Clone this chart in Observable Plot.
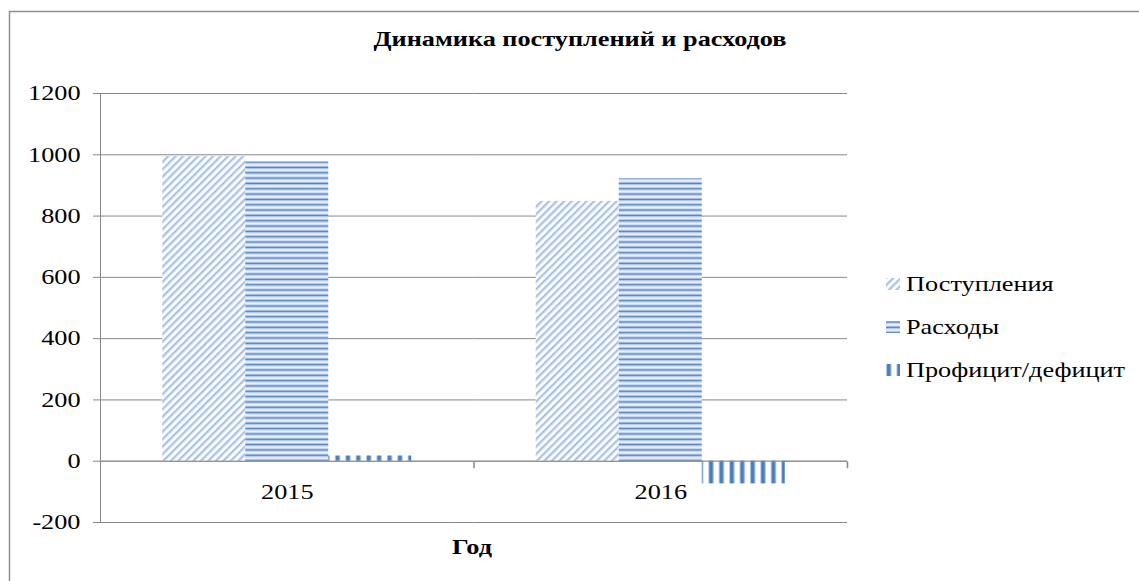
<!DOCTYPE html>
<html><head><meta charset="utf-8">
<script src="https://cdn.jsdelivr.net/npm/d3@7"></script>
<script src="https://cdn.jsdelivr.net/npm/@observablehq/plot@0.6"></script>
<style>
html,body{margin:0;padding:0;background:#fff;}
#wrap{position:relative;width:1139px;height:581px;overflow:hidden;background:#fff;}
#wrap > svg{position:absolute;left:0;top:0;}
</style></head><body><div id="wrap"></div>
<script>
const years = ["2015", "2016"];
const series = ["Поступления", "Расходы", "Профицит/дефицит"];
const revenue = [994, 848];
const expenses = [977, 922];
const balance = [17, -74];
const yTicks = [-200, 0, 200, 400, 600, 800, 1000, 1200];
const title = "Динамика поступлений и расходов";
const xTitle = "Год";

const rows = years.flatMap((year, i) => [
  {year, series: series[0], value: revenue[i]},
  {year, series: series[1], value: expenses[i]},
  {year, series: series[2], value: balance[i]}
]);
const patterns = ["url(#pDiag)", "url(#pHoriz)", "url(#pVert)"];
const gray = "#888888";
const font = "'Liberation Serif', 'Times New Roman', serif";
const fs = 21;
const stretch = 1.25;
const tickSymbol = {draw(ctx) { ctx.moveTo(0, 0); ctx.lineTo(0, 7); }};

const wrap = document.getElementById("wrap");

const chart = Plot.plot({
  width: 1139, height: 581,
  marginLeft: 100, marginRight: 292, marginTop: 93, marginBottom: 59,
  style: {fontFamily: font, fontSize: fs + "px", color: "black", background: "transparent"},
  fx: {domain: years, padding: 0, axis: null, round: false, label: null},
  x: {domain: series, paddingInner: 0, paddingOuter: 0.75, axis: null, round: false, label: null},
  y: {domain: [-200, 1200], ticks: yTicks, label: null},
  color: {type: "ordinal", domain: series, range: patterns},
  marks: [
    Plot.gridY(yTicks, {stroke: gray, strokeOpacity: 1}),
    Plot.barY(rows, {fx: "year", x: "series", y: "value", fill: "series"}),
    Plot.ruleY([0], {stroke: gray}),
    Plot.frame({anchor: "left", facetAnchor: "left", stroke: gray}),
    Plot.dot([0], {y: d => d, frameAnchor: "right", symbol: tickSymbol, stroke: gray, fill: "none"}),
    Plot.axisY(yTicks, {tickSize: 7, tickPadding: 13, stroke: gray, fill: "black", fontSize: fs,
      fontFamily: font, label: null, tickFormat: d => String(d)}),
    Plot.text(years, {fx: d => d, y: () => 0, text: d => d, dy: 31, fill: "black", fontSize: fs, fontFamily: font})
  ]
});
wrap.appendChild(chart);

const ov = d3.select(wrap).append("svg").attr("width", 1139).attr("height", 581)
  .style("font-family", font).style("font-size", fs + "px");
ov.append("defs").html(`
  <pattern id="pDiag" patternUnits="userSpaceOnUse" width="5.3" height="10" patternTransform="rotate(45)">
    <rect width="5.3" height="10" fill="#ffffff"/>
    <rect x="0" width="0.8" height="10" fill="#d3e0f2"/>
    <rect x="0.8" width="1.5" height="10" fill="#97b6e0"/>
    <rect x="2.3" width="0.8" height="10" fill="#d3e0f2"/>
  </pattern>
  <pattern id="pHoriz" patternUnits="userSpaceOnUse" width="10" height="5.33">
    <rect width="10" height="5.33" fill="#eef3fa"/>
    <rect y="0.6" width="10" height="0.9" fill="#b3c8e8"/>
    <rect y="1.5" width="10" height="1.6" fill="#4f81bd"/>
    <rect y="3.1" width="10" height="0.9" fill="#b3c8e8"/>
  </pattern>
  <pattern id="pVert" patternUnits="userSpaceOnUse" width="10.4" height="10" x="2">
    <rect width="10.4" height="10" fill="#ffffff"/>
    <rect x="0" width="1" height="10" fill="#b3c8e8"/>
    <rect x="1" width="3.6" height="10" fill="#4a7dbd"/>
    <rect x="4.6" width="1" height="10" fill="#b3c8e8"/>
  </pattern>`);

ov.append("path").attr("d", "M9.5,581V11.5H1139").attr("fill", "none")
  .attr("stroke", "#8e8e8e").attr("stroke-width", 1.5);

ov.append("text").attr("x", 580).attr("y", 46).attr("text-anchor", "middle")
  .attr("font-weight", "bold").attr("fill", "black").text(title);
ov.append("text").attr("x", 472).attr("y", 554).attr("text-anchor", "middle")
  .attr("font-weight", "bold").attr("fill", "black").text(xTitle);

const lg = ov.append("g");
series.forEach((s, i) => {
  const cy = 284 + i * 43;
  lg.append("rect").attr("x", 886).attr("y", cy - 6).attr("width", 14).attr("height", 12)
    .attr("fill", patterns[i]);
  lg.append("text").attr("x", 906).attr("y", cy + 7).attr("fill", "black").text(s);
});

// horizontal stretch of text to match the reference's aspect
document.querySelectorAll("#wrap svg text").forEach(t => {
  const w = t.getComputedTextLength();
  if (w > 0) {
    t.setAttribute("textLength", w * stretch);
    t.setAttribute("lengthAdjust", "spacingAndGlyphs");
  }
});
</script></body></html>
